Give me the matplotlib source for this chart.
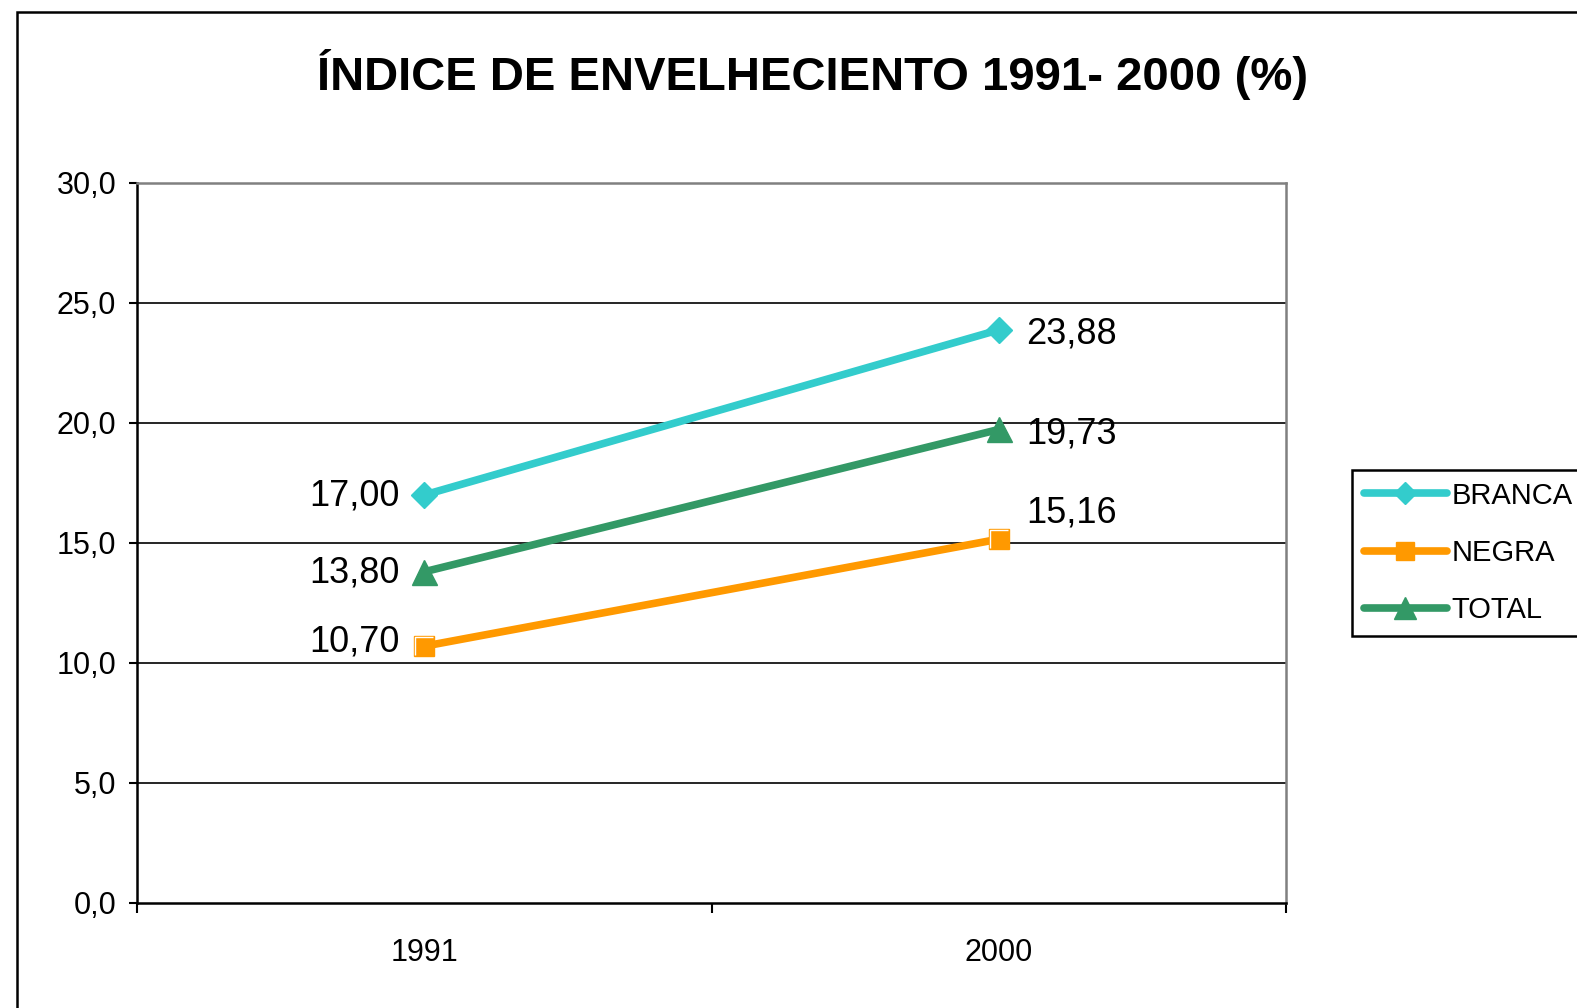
import matplotlib
matplotlib.use("Agg")
import matplotlib.pyplot as plt
from matplotlib.patches import Rectangle
from matplotlib.path import Path
from matplotlib.ticker import FixedLocator, FuncFormatter

plt.rcParams['font.family'] = ['Liberation Sans', 'DejaVu Sans']

title = "ÍNDICE DE ENVELHECIENTO 1991- 2000 (%)"
years = ["1991", "2000"]
series_names = ["BRANCA", "NEGRA", "TOTAL"]
branca = [17.00, 23.88]
negra = [10.70, 15.16]
total = [13.80, 19.73]
yticks = [0, 5, 10, 15, 20, 25, 30]

colors = {"BRANCA": "#33CCCC", "NEGRA": "#FF9900", "TOTAL": "#339966"}
markers = {"BRANCA": "D", "NEGRA": "s", "TOTAL": "^"}
msizes = {"BRANCA": 13, "NEGRA": 15, "TOTAL": 18}
values = {"BRANCA": branca, "NEGRA": negra, "TOTAL": total}

W, H = 1577, 1008
fig = plt.figure(figsize=(W / 100, H / 100), dpi=100)
fig.patches.append(Rectangle((17 / W, -0.1), 1.2, 1 - 12 / H + 0.1, transform=fig.transFigure,
                             fill=False, edgecolor='black', linewidth=1.8, zorder=0))

ax = fig.add_axes([137 / W, 1 - 903 / H, (1286 - 137) / W, (903 - 183) / H])
x = list(range(len(years)))

for name in series_names:
    ax.plot(x, values[name], color=colors[name], linewidth=5.5, marker=markers[name],
            markersize=msizes[name], markerfacecolor=colors[name], markeredgecolor=colors[name],
            label=name, zorder=3, solid_capstyle='round')

# white inner highlight on the square markers
hl = Path([(-1, -1), (-1, 1), (1, 1)], [Path.MOVETO, Path.LINETO, Path.LINETO])
ax.plot(x, negra, linestyle='none', marker=hl, markersize=12.5, markerfacecolor='none',
        markeredgecolor='white', markeredgewidth=1.0, zorder=3.5)

def fmt(v):
    return f"{v:.2f}".replace(".", ",")

# data labels
offsets = {
    ("BRANCA", 0): (-18, -1), ("NEGRA", 0): (-18, 3), ("TOTAL", 0): (-18, -1),
    ("BRANCA", 1): (20, -3), ("NEGRA", 1): (20, 19), ("TOTAL", 1): (20, -3),
}
for name in series_names:
    for i, v in enumerate(values[name]):
        dx, dy = offsets[(name, i)]
        ax.annotate(fmt(v), (x[i], v), xytext=(dx, dy), textcoords='offset points',
                    ha='right' if i == 0 else 'left', va='center', fontsize=26, zorder=4)

ax.set_xlim(-0.5, len(years) - 0.5)
ax.set_ylim(0, 30)
ax.yaxis.set_major_locator(FixedLocator(yticks))
ax.yaxis.set_major_formatter(FuncFormatter(lambda v, p: f"{v:.1f}".replace(".", ",")))
ax.set_xticks(x)
ax.set_xticklabels(years)
ax.set_xticks([-0.5, 0.5, 1.5], minor=True)
ax.tick_params(axis='x', which='major', length=0, pad=25, labelsize=22)
ax.tick_params(axis='x', which='minor', length=7, width=1.5, direction='out', color='black')
ax.tick_params(axis='y', length=6, width=1.5, direction='out', pad=9, labelsize=22)

ax.yaxis.grid(True, color='black', linewidth=1.2, zorder=1)
ax.set_axisbelow(True)
for gl, t in zip(ax.yaxis.get_gridlines(), yticks):
    if t in (0, 30):
        gl.set_visible(False)

for s in ['left', 'bottom']:
    ax.spines[s].set_color('black')
    ax.spines[s].set_linewidth(1.8)
for s in ['top', 'right']:
    ax.spines[s].set_color('#808080')
    ax.spines[s].set_linewidth(1.8)

fig.text(813 / W, 1 - 75 / H, title, ha='center', va='center', fontsize=34, fontweight='bold')

leg = fig.legend(loc='upper left', bbox_to_anchor=(1352 / W, 1 - 470 / H), fontsize=21,
                 frameon=True, fancybox=False, edgecolor='black', framealpha=1,
                 handlelength=2.85, handletextpad=0.15, borderpad=0.4, labelspacing=1.0,
                 markerscale=0.85, borderaxespad=0)
leg.get_frame().set_linewidth(1.8)

fig.savefig("out.png", dpi=100)
